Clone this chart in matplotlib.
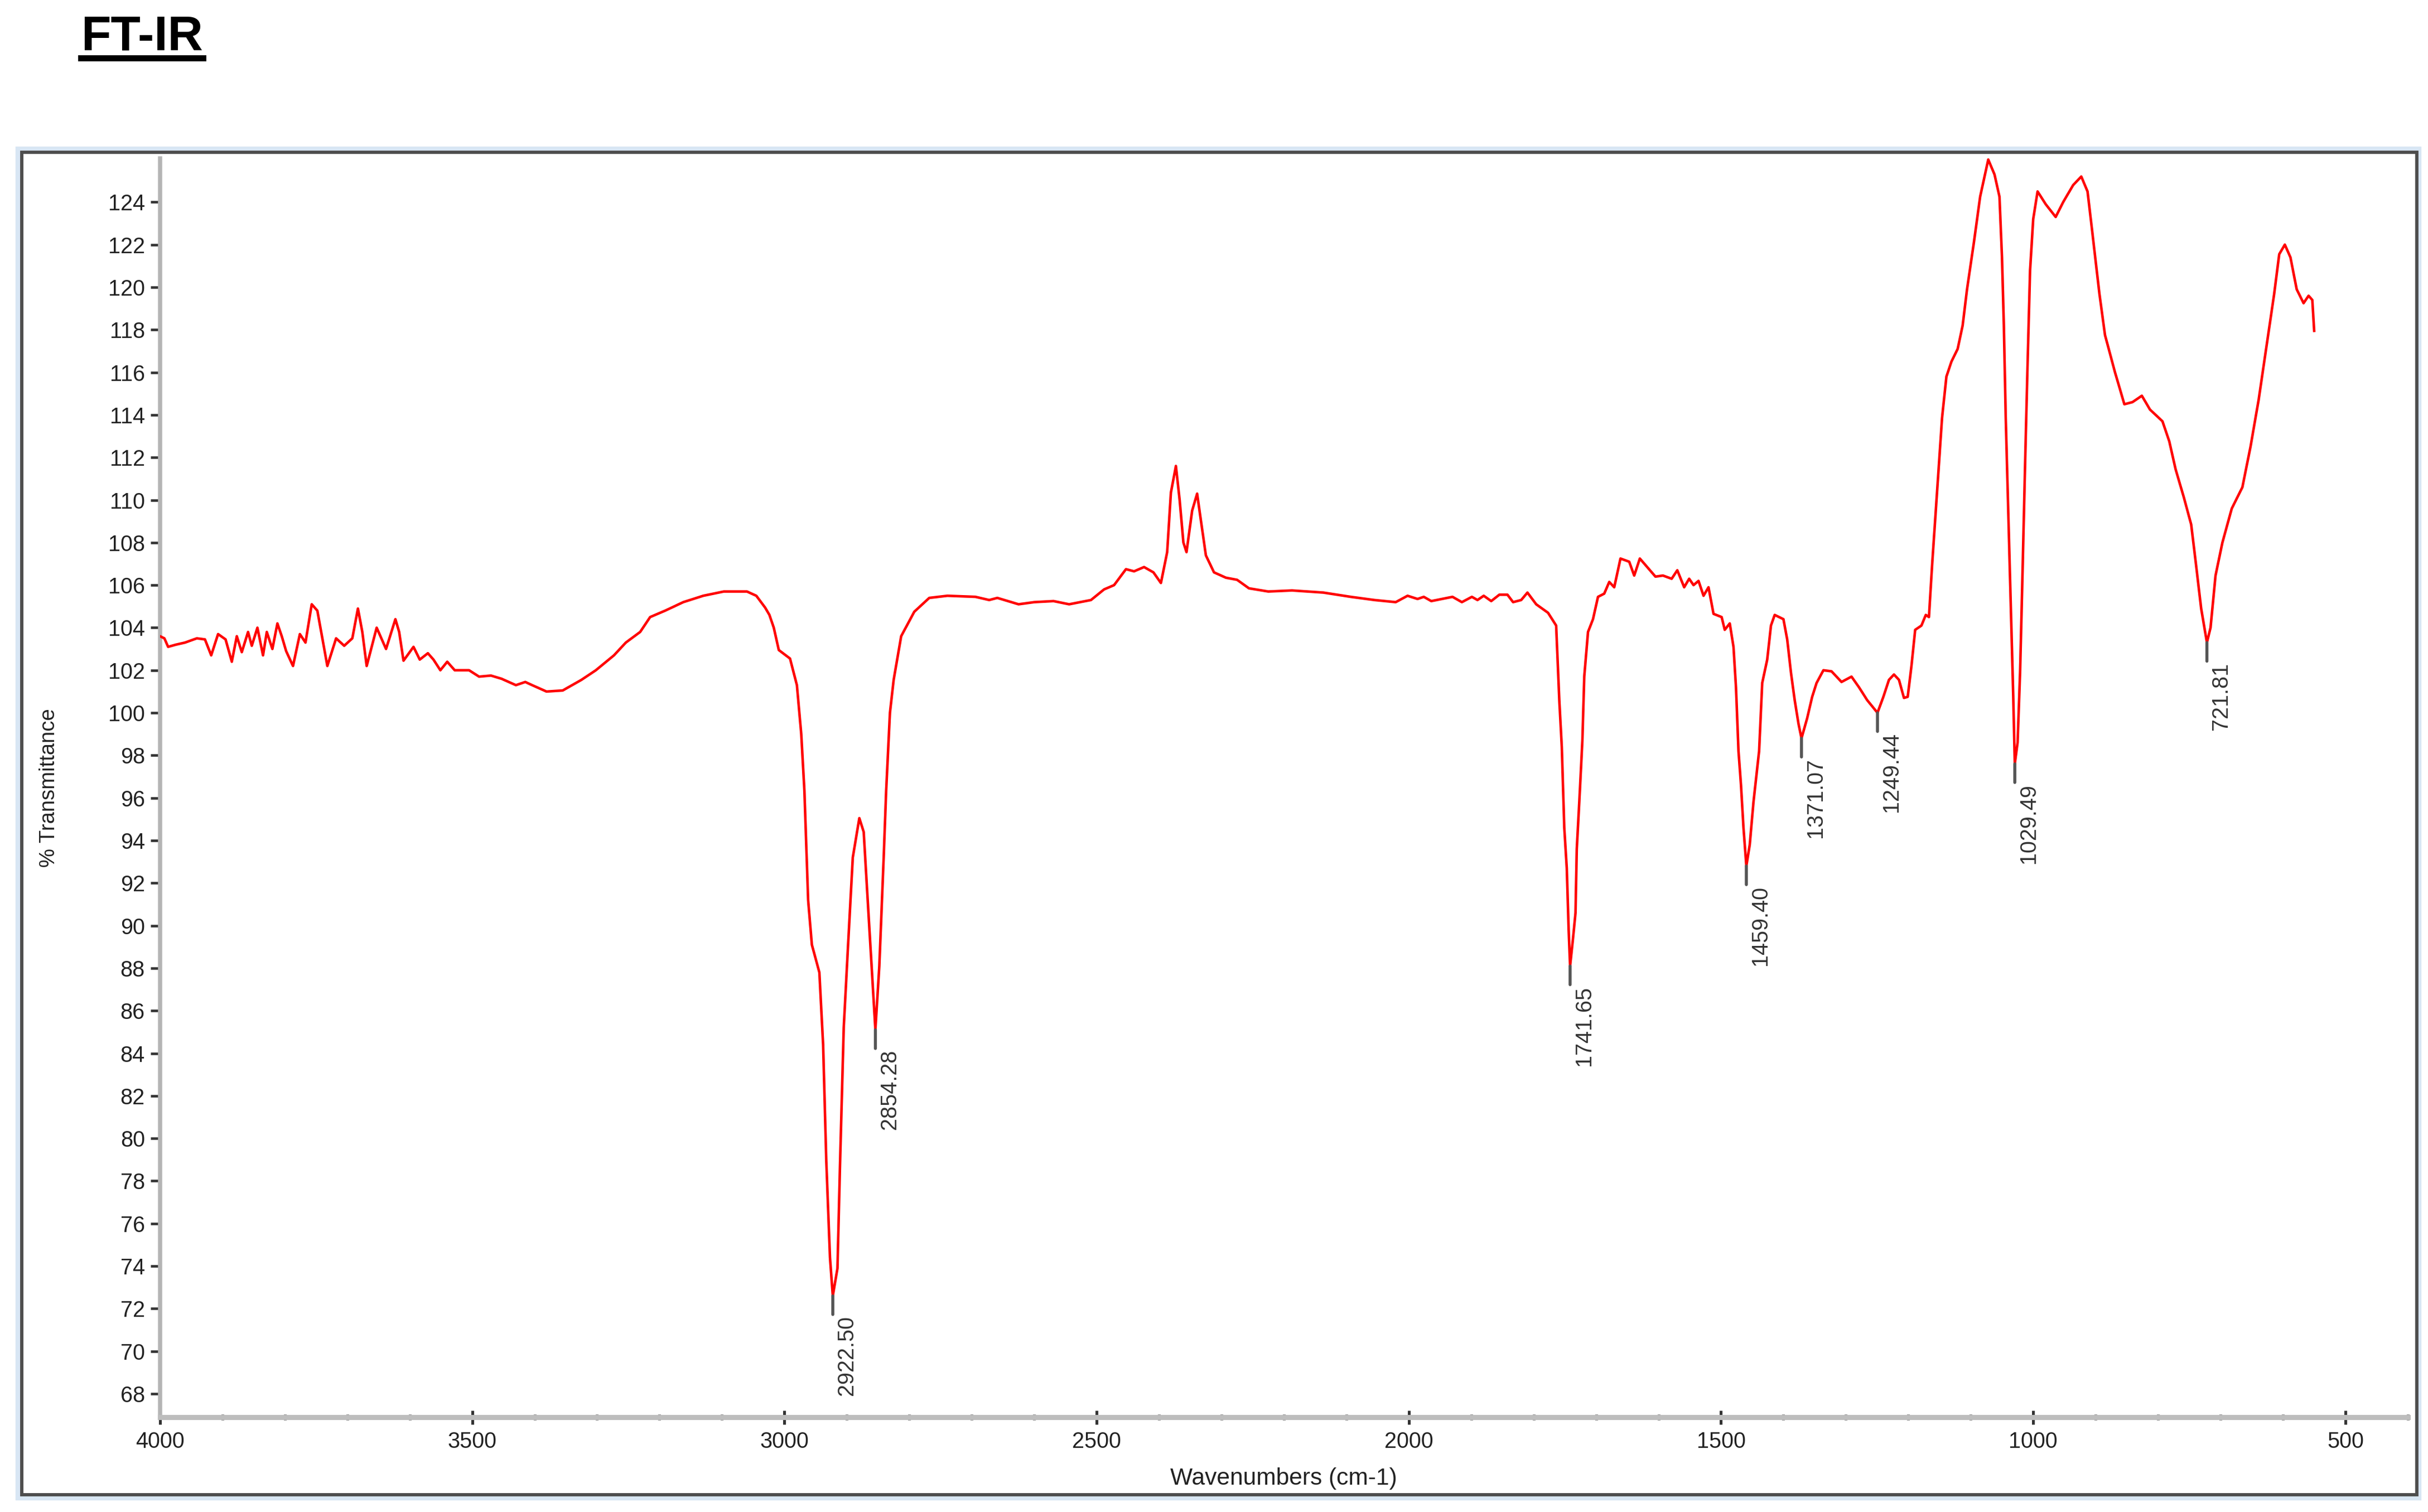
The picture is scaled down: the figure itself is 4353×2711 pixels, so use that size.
import numpy as np
import matplotlib.pyplot as plt
from matplotlib.patches import Rectangle
from matplotlib.lines import Line2D
from matplotlib.ticker import MultipleLocator

plt.rcParams['font.family'] = ['Liberation Sans', 'DejaVu Sans']

# spectrum (wavenumber cm-1, %T)
wavenumber = [
    4000, 3993, 3987, 3975, 3960, 3941, 3928, 3918, 3907, 3895, 3885, 3877, 3869, 3859, 3853,
    3844, 3835, 3829, 3820, 3812, 3805, 3798, 3787, 3776, 3767, 3757, 3748, 3740, 3732, 3718,
    3705, 3692, 3683, 3676, 3669, 3653, 3638, 3623, 3617, 3610, 3594, 3584, 3571, 3562, 3551,
    3540, 3528, 3505, 3489, 3470, 3453, 3430, 3415, 3404, 3381, 3355, 3325, 3302, 3273, 3254,
    3231, 3215, 3191, 3162, 3130, 3097, 3060, 3045, 3031, 3024, 3017, 3009, 2991, 2980, 2973,
    2968, 2962, 2956, 2944, 2938, 2933, 2927, 2922.5, 2915, 2911, 2905, 2898, 2890.5, 2880, 2873,
    2865, 2854.3, 2848, 2841, 2837, 2831, 2825, 2813, 2792, 2768, 2739, 2694, 2672, 2659, 2625,
    2600, 2569, 2544, 2509, 2488, 2472, 2453, 2440, 2424, 2409, 2397, 2387, 2381, 2373, 2367,
    2361, 2356, 2347, 2339, 2334, 2325, 2312, 2293, 2275, 2256, 2225, 2187, 2137, 2093, 2055,
    2021, 2002, 1986, 1976, 1964, 1930, 1915, 1899, 1890, 1880, 1868, 1855, 1842, 1833, 1820,
    1810, 1796, 1777, 1764, 1759, 1755, 1751, 1747, 1744, 1741.7, 1737, 1733, 1731, 1727, 1722,
    1719, 1713, 1705, 1697, 1687, 1679, 1671, 1661, 1647, 1639, 1630, 1605, 1593, 1579, 1570,
    1559, 1551, 1544, 1536, 1528, 1520, 1512, 1499, 1494, 1486, 1480, 1476, 1472, 1468, 1464,
    1459.4, 1454, 1448, 1439, 1434, 1426, 1420, 1414, 1400, 1394, 1388, 1382, 1376, 1371.1, 1362,
    1354, 1347, 1336, 1323, 1307, 1291, 1279, 1266, 1249.4, 1240, 1231, 1223, 1215, 1207, 1201,
    1195, 1189, 1179, 1172, 1167, 1162, 1156, 1151, 1146, 1139, 1131, 1121, 1113, 1106, 1095,
    1085, 1072, 1062, 1054, 1050, 1047, 1044, 1040, 1036, 1032, 1029.5, 1025, 1021, 1017, 1013,
    1009, 1005, 1000, 993, 980, 964, 952, 936, 923, 913, 905, 894, 885, 869, 854,
    841, 826, 813, 793, 782, 772, 759, 747, 739, 731, 721.8, 716, 708, 697, 682,
    665, 652, 639, 626, 614, 606, 597, 588, 578, 567, 559, 553, 550,
]
transmittance = [
    103.6, 103.5, 103.1, 103.2, 103.3, 103.5, 103.45, 102.7, 103.7, 103.45, 102.4, 103.6, 102.85, 103.8, 103.15,
    104.0, 102.7, 103.8, 103.0, 104.2, 103.6, 102.9, 102.2, 103.7, 103.3, 105.1, 104.8, 103.5, 102.2, 103.5,
    103.15, 103.5, 104.9, 103.8, 102.2, 104.0, 103.0, 104.4, 103.8, 102.45, 103.1, 102.5, 102.8, 102.5, 102.0,
    102.4, 102.0, 102.0, 101.7, 101.75, 101.6, 101.3, 101.45, 101.3, 101.0, 101.05, 101.55, 102.0, 102.7, 103.3,
    103.8, 104.5, 104.8, 105.2, 105.5, 105.7, 105.7, 105.5, 104.95, 104.6, 104.0, 102.95, 102.55, 101.3, 99.0,
    96.35, 91.2, 89.1, 87.8, 84.4, 79.0, 74.4, 72.6, 73.9, 78.7, 85.2, 89.1, 93.2, 95.05, 94.4,
    90.4, 85.1, 88.1, 93.2, 96.35, 100.0, 101.55, 103.6, 104.75, 105.4, 105.5, 105.45, 105.3, 105.4, 105.1,
    105.2, 105.25, 105.1, 105.3, 105.8, 106.0, 106.75, 106.65, 106.85, 106.6, 106.1, 107.55, 110.35, 111.6, 110.0,
    108.0, 107.55, 109.5, 110.3, 109.25, 107.4, 106.6, 106.35, 106.25, 105.85, 105.7, 105.75, 105.65, 105.45, 105.3,
    105.2, 105.5, 105.35, 105.45, 105.25, 105.45, 105.2, 105.45, 105.3, 105.5, 105.25, 105.55, 105.55, 105.2, 105.3,
    105.65, 105.1, 104.7, 104.1, 100.6, 98.4, 94.6, 92.7, 89.8, 88.1, 89.4, 90.6, 93.6, 95.8, 98.7,
    101.7, 103.8, 104.4, 105.45, 105.6, 106.15, 105.9, 107.25, 107.1, 106.45, 107.25, 106.4, 106.45, 106.3, 106.7,
    105.9, 106.3, 106.0, 106.2, 105.5, 105.9, 104.65, 104.5, 103.9, 104.2, 103.1, 101.2, 98.2, 96.6, 94.6,
    92.8, 93.8, 95.8, 98.2, 101.4, 102.5, 104.1, 104.6, 104.4, 103.45, 101.9, 100.6, 99.5, 98.8, 99.75,
    100.75, 101.4, 102.0, 101.95, 101.45, 101.7, 101.2, 100.6, 100.0, 100.75, 101.55, 101.8, 101.55, 100.7, 100.75,
    102.2, 103.9, 104.1, 104.6, 104.5, 106.9, 109.5, 111.7, 113.85, 115.8, 116.5, 117.1, 118.2, 119.9, 122.1,
    124.25, 126.0, 125.3, 124.25, 121.4, 118.2, 113.85, 109.5, 105.15, 100.8, 97.6, 98.6, 101.9, 106.7, 111.7,
    116.4, 120.8, 123.2, 124.5, 123.9, 123.3, 124.0, 124.8, 125.2, 124.5, 122.5, 119.7, 117.75, 116.0, 114.5,
    114.6, 114.9, 114.25, 113.7, 112.75, 111.45, 110.15, 108.85, 106.9, 104.9, 103.3, 104.0, 106.45, 108.0, 109.6,
    110.6, 112.5, 114.7, 117.3, 119.7, 121.55, 122.0, 121.4, 119.9, 119.25, 119.6, 119.4, 117.95,
]

peak_wn = [2922.5, 2854.3, 1741.7, 1459.4, 1371.1, 1249.4, 1029.5, 721.8]
peak_t = [72.6, 85.1, 88.1, 92.8, 98.8, 100.0, 97.6, 103.3]
peak_labels = ['2922.50', '2854.28', '1741.65', '1459.40', '1371.07', '1249.44', '1029.49', '721.81']

y_ticks = list(range(68, 125, 2))
x_ticks = [4000, 3500, 3000, 2500, 2000, 1500, 1000, 500]

fig = plt.figure(figsize=(4353 / 300, 2711 / 300), dpi=300)
fig.patch.set_facecolor('white')

# outer window frame
fig.patches.append(Rectangle((0.0075, 0.0095), 0.9885, 0.8915, transform=fig.transFigure,
                             fill=False, edgecolor='#d8e6f4', lw=2.5, zorder=0))
fig.patches.append(Rectangle((0.009, 0.0113), 0.9865, 0.888, transform=fig.transFigure,
                             fill=False, edgecolor='#4d4d4d', lw=1.4, zorder=1))

ax = fig.add_axes([0.0659, 0.0627, 0.9258, 0.8325])
ax.plot(wavenumber, transmittance, color='#ff0000', lw=1.1, zorder=3,
        solid_joinstyle='round')

ax.set_xlim(4000, 400)
ax.set_ylim(66.9, 126.05)

for wn, t, lab in zip(peak_wn, peak_t, peak_labels):
    ax.annotate('', xy=(wn, t), xytext=(0, -8), textcoords='offset points',
                arrowprops=dict(arrowstyle='-', color='#555555', lw=1.3, shrinkA=0, shrinkB=0))
    ax.annotate(lab, xy=(wn, t), xytext=(1.5, -8.5), textcoords='offset points',
                rotation=90, ha='left', va='top', fontsize=9.5, color='#333333')

ax.spines['top'].set_visible(False)
ax.spines['right'].set_visible(False)
ax.spines['bottom'].set_color('#bdbdbd')
ax.spines['bottom'].set_linewidth(2.2)
ax.spines['left'].set_color('#b5b5b5')
ax.spines['left'].set_linewidth(1.8)

ax.set_xticks(x_ticks)
ax.xaxis.set_minor_locator(MultipleLocator(100))
ax.set_yticks(y_ticks)
ax.yaxis.set_minor_locator(MultipleLocator(0.25))

ax.tick_params(axis='x', which='major', direction='inout', length=6, width=1.2,
               color='#333333', labelsize=9.5, labelcolor='#222222', pad=3)
ax.tick_params(axis='x', which='minor', direction='inout', length=2.5, width=1.2, color='#333333')
ax.tick_params(axis='y', which='major', direction='out', length=4, width=1.1,
               color='#333333', labelsize=9.5, labelcolor='#222222', pad=2.5)
ax.tick_params(axis='y', which='minor', direction='inout', length=1.6, width=1.0, color='#333333')

ax.set_xlabel('Wavenumbers (cm-1)', fontsize=10.2, color='#222222')
ax.xaxis.set_label_coords(0.5, -0.04)
ax.set_ylabel('% Transmittance', fontsize=9.2, color='#222222')
ax.yaxis.set_label_coords(-0.045, 0.5)

title = fig.text(0.0333, 0.967, 'FT-IR', fontsize=21, fontweight='bold',
                 ha='left', va='baseline')
fig.canvas.draw()
bb = title.get_window_extent().transformed(fig.transFigure.inverted())
fig.add_artist(Line2D([bb.x0, bb.x1], [0.9615, 0.9615], transform=fig.transFigure,
                      color='black', lw=2.6))

fig.savefig('out.png', dpi=300, facecolor='white')
